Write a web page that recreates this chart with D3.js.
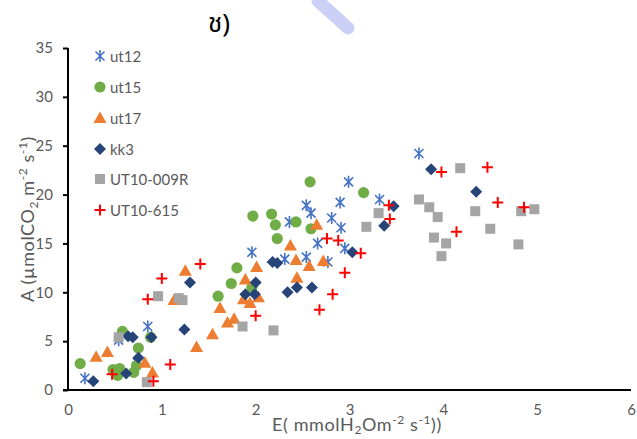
<!DOCTYPE html>
<html>
<head>
<meta charset="utf-8">
<script src="https://cdn.jsdelivr.net/npm/d3@7"></script>
<style>
  body { margin: 0; background: #fff; }
  svg { display: block; }
  text { font-family: Lato, "Liberation Sans", sans-serif; }
</style>
</head>
<body>
<div id="chart"></div>
<script>
// data, [E, A]
var seriesNames = ["ut12", "ut15", "ut17", "kk3", "UT10-009R", "UT10-615"];
var xTicks = [0, 1, 2, 3, 4, 5, 6];
var yTicks = [0, 5, 10, 15, 20, 25, 30, 35];

var ut12 = [[0.18,1.2],[0.54,5.1],[0.74,2.8],[0.85,6.5],[1.96,14.1],[2.31,13.4],[2.36,17.2],
  [2.54,18.9],[2.54,13.6],[2.59,18.1],[2.66,15.0],[2.77,13.1],[2.81,17.6],[2.90,19.2],
  [2.91,16.6],[2.95,14.5],[2.99,21.3],[3.32,19.5],[3.74,24.2]];
var ut15 = [[0.13,2.7],[0.48,2.1],[0.53,1.5],[0.55,2.2],[0.58,6.0],[0.70,1.8],[0.73,2.5],
  [0.75,4.3],[0.88,5.4],[1.60,9.6],[1.74,10.9],[1.80,12.5],[1.96,10.5],[1.97,17.8],
  [2.17,18.0],[2.21,16.9],[2.23,15.5],[2.43,17.2],[2.58,21.3],[2.59,16.5],[3.15,20.2]];
var ut17 = [[0.30,3.4],[0.42,3.9],[0.82,2.8],[0.90,1.8],[1.13,9.2],[1.25,12.2],[1.37,4.4],
  [1.54,5.7],[1.62,8.4],[1.70,6.9],[1.77,7.3],[1.87,9.3],[1.89,11.3],[1.94,8.9],
  [2.01,12.6],[2.03,9.5],[2.37,14.8],[2.43,13.3],[2.44,11.5],[2.57,12.7],[2.65,16.9],[2.72,13.2]];
var kk3 = [[0.27,0.9],[0.62,1.7],[0.64,5.5],[0.69,5.4],[0.75,3.3],[0.89,5.4],[1.24,6.2],
  [1.30,11.0],[1.89,9.8],[1.99,9.8],[2.00,11.0],[2.18,13.1],[2.23,13.0],[2.34,10.0],
  [2.44,10.5],[2.60,10.5],[3.03,14.1],[3.37,16.8],[3.47,18.8],[3.87,22.6],[4.35,20.3]];
var ut10009R = [[0.54,5.4],[0.84,0.8],[0.96,9.6],[1.18,9.4],[1.22,9.2],[1.86,6.5],[2.19,6.1],
  [3.18,16.7],[3.31,18.1],[3.74,19.5],[3.85,18.7],[3.90,15.6],[3.94,17.7],[3.98,13.7],
  [4.03,15.0],[4.18,22.7],[4.34,18.3],[4.50,16.5],[4.80,14.9],[4.83,18.3],[4.97,18.5]];
var ut10615 = [[0.47,1.6],[0.85,9.3],[0.91,0.9],[1.00,11.4],[1.09,2.6],[1.41,12.9],[2.00,7.6],
  [2.68,8.2],[2.76,15.5],[2.82,9.8],[2.88,15.3],[2.95,12.0],[3.12,14.0],[3.42,18.9],
  [3.43,17.5],[3.98,22.3],[4.14,16.2],[4.47,22.8],[4.58,19.2],[4.86,18.7]];

var allData = [ut12, ut15, ut17, kk3, ut10009R, ut10615];

var W = 637, H = 439;
var svg = d3.select("#chart").append("svg").attr("width", W).attr("height", H);

var x = d3.scaleLinear().domain([0, 6]).range([68, 631]);
var y = d3.scaleLinear().domain([0, 35]).range([390, 48]);

// faint mark at the top (scan artifact in the original)
svg.append("path")
  .attr("d", "M318,1 C328,10 338,19 348,28")
  .attr("stroke", "#cdd0f6").attr("stroke-width", 13).attr("stroke-linecap", "round")
  .attr("fill", "none");

// title
svg.append("text").attr("x", 219).attr("y", 32).attr("text-anchor", "middle")
  .attr("font-size", 26).attr("font-weight", "normal").attr("fill", "#000")
  .style("font-family", "'Noto Sans Thai','Noto Serif Thai','DejaVu Sans',sans-serif")
  .text("ช)");

// marker drawers
var markers = [
  function(g) { // star
    g.append("path").attr("d", "M-4.5,-4.5L4.5,4.5M-4.5,4.5L4.5,-4.5M0,-6L0,6")
      .attr("stroke", "#4472C4").attr("stroke-width", 1.6).attr("fill", "none");
  },
  function(g) {
    g.append("circle").attr("r", 5.6).attr("fill", "#70AD47");
  },
  function(g) {
    g.append("path").attr("d", "M0,-6.5L6.5,5L-6.5,5Z").attr("fill", "#ED7D31");
  },
  function(g) {
    g.append("path").attr("d", "M0,-6L6,0L0,6L-6,0Z").attr("fill", "#264478");
  },
  function(g) {
    g.append("rect").attr("x", -5).attr("y", -5).attr("width", 10).attr("height", 10)
      .attr("fill", "#A5A5A5");
  },
  function(g) {
    g.append("path").attr("d", "M-5.5,0L5.5,0M0,-5.5L0,5.5")
      .attr("stroke", "#FF0000").attr("stroke-width", 2).attr("fill", "none");
  }
];

// axes
var yAxis = svg.append("g").attr("transform", "translate(68,0)")
  .call(d3.axisLeft(y).tickValues(yTicks).tickFormat(d3.format("d")).tickSize(5).tickPadding(10));
yAxis.select(".domain").attr("stroke", "#000").attr("stroke-width", 2)
  .attr("d", "M0,48V390");
yAxis.selectAll(".tick line").attr("stroke", "#000").attr("stroke-width", 2);
yAxis.selectAll(".tick text").attr("font-size", 15).attr("fill", "#595959")
  .style("font-family", "Lato, sans-serif");

var xAxis = svg.append("g").attr("transform", "translate(0,390)")
  .call(d3.axisBottom(x).tickValues(xTicks).tickFormat(d3.format("d")).tickSize(0).tickPadding(14));
xAxis.select(".domain").attr("stroke", "#000").attr("stroke-width", 2)
  .attr("d", "M63,0H631");
xAxis.selectAll(".tick text").attr("font-size", 15).attr("fill", "#595959")
  .style("font-family", "Lato, sans-serif");

// points
allData.forEach(function(data, i) {
  svg.append("g").selectAll("g").data(data).enter().append("g")
    .attr("transform", function(d) { return "translate(" + x(d[0]) + "," + y(d[1]) + ")"; })
    .each(function() { markers[i](d3.select(this)); });
});

// legend
var legendY = [56, 87, 118, 149, 179, 210];
seriesNames.forEach(function(name, i) {
  var g = svg.append("g").attr("transform", "translate(100," + legendY[i] + ")");
  markers[i](g);
  g.append("text").attr("x", 10).attr("y", 5.5).attr("font-size", 15)
    .attr("fill", "#595959").text(name);
});

// axis titles
var yt = svg.append("text").attr("transform", "translate(34,219) rotate(-90)")
  .attr("text-anchor", "middle").attr("font-size", 18).attr("letter-spacing", 0.6)
  .attr("fill", "#595959");
yt.append("tspan").text("A (\u00b5molCO");
yt.append("tspan").attr("font-size", 12).attr("dy", 4).text("2");
yt.append("tspan").attr("dy", -4).text(" m");
yt.append("tspan").attr("font-size", 12).attr("dy", -7).text("-2");
yt.append("tspan").attr("dy", 7).text(" s");
yt.append("tspan").attr("font-size", 12).attr("dy", -7).text("-1");
yt.append("tspan").attr("dy", 7).text(")");

var xt = svg.append("text").attr("x", 357).attr("y", 431)
  .attr("text-anchor", "middle").attr("font-size", 18).attr("letter-spacing", 0.6)
  .attr("fill", "#595959");
xt.append("tspan").text("E( mmolH");
xt.append("tspan").attr("font-size", 12).attr("dy", 3).text("2");
xt.append("tspan").attr("dy", -3).text("Om");
xt.append("tspan").attr("font-size", 12).attr("dy", -7).text("-2");
xt.append("tspan").attr("dy", 7).text(" s");
xt.append("tspan").attr("font-size", 12).attr("dy", -7).text("-1");
xt.append("tspan").attr("dy", 7).text("))");
</script>
</body>
</html>
